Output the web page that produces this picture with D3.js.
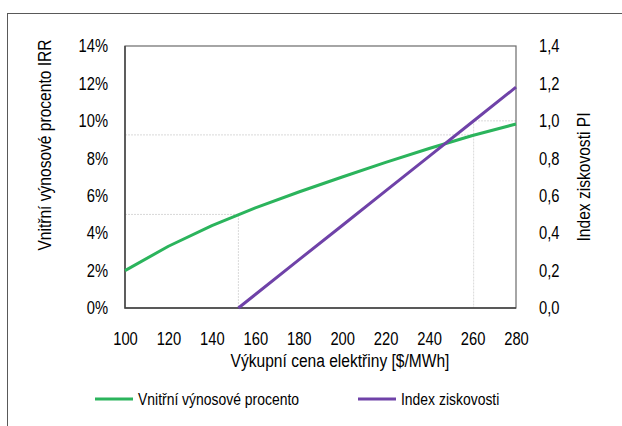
<!DOCTYPE html>
<html><head><meta charset="utf-8">
<script src="https://cdn.jsdelivr.net/npm/d3@7"></script>
<style>
html,body{margin:0;padding:0;background:#fff;}
svg text{font-family:"Liberation Sans Narrow","Arial Narrow","Liberation Sans",Arial,sans-serif;fill:#000;}
</style></head>
<body>
<svg id="c" width="622" height="426"></svg>
<script>
// data
const prices = [100,120,140,160,180,200,220,240,260,280];
const irrValues = [2.0,3.3,4.4,5.35,6.2,7.0,7.78,8.52,9.22,9.83]; // %
const piPrices = [152.2,160,180,200,220,240,260,280];
const piValues = [0,0.072,0.257,0.441,0.626,0.810,0.995,1.18];
const leftTicks = [0,2,4,6,8,10,12,14];
const rightTicks = [0,0.2,0.4,0.6,0.8,1.0,1.2,1.4];
const xTicks = [100,120,140,160,180,200,220,240,260,280];
const guidePrice = [152.2,260.5];
const guideIrr = [5.0,9.25];
const guidePi = [0,1.0];
const seriesNames = ["Vnitřní výnosové procento","Index ziskovosti"];
const colors = ["#2bb45c","#6f42a8"];

const SX = 0.82; // narrow font emulation
const svg = d3.select("#c");
const L=125,R=516,T=46,B=308;
const x = d3.scaleLinear().domain([100,280]).range([L,R]);
const yL = d3.scaleLinear().domain([0,14]).range([B,T]);
const yR = d3.scaleLinear().domain([0,1.4]).range([B,T]);

// outer border
svg.append("rect").attr("x",7.5).attr("y",13.5).attr("width",700).attr("height",500)
  .attr("fill","none").attr("stroke","#595959").attr("stroke-width",1);

// guide lines
const g = svg.append("g").attr("stroke","#d9d9d9").attr("stroke-width",1).attr("stroke-dasharray","2,1").attr("fill","none");
g.append("path").attr("d",`M${L},${yL(guideIrr[0])}H${x(guidePrice[0])}V${B}`);
g.append("path").attr("d",`M${L},${yL(guideIrr[1])}H${x(guidePrice[1])}`);
g.append("path").attr("d",`M${R},${yR(guidePi[1])}H${x(guidePrice[1])}V${B}`);

// plot frame
svg.append("rect").attr("x",L).attr("y",T).attr("width",R-L).attr("height",B-T)
  .attr("fill","none").attr("stroke","#6b6b6b").attr("stroke-width",1.2);
svg.append("path").attr("d",`M${L},${T}V${B}H${R}`).attr("fill","none").attr("stroke","#404040").attr("stroke-width",1.4);

// lines
const lineIrr = d3.line().x((d,i)=>x(prices[i])).y(d=>yL(d));
const linePi = d3.line().x((d,i)=>x(piPrices[i])).y(d=>yR(d));
svg.append("path").datum(irrValues).attr("d",lineIrr).attr("fill","none").attr("stroke",colors[0]).attr("stroke-width",3).attr("stroke-linejoin","round");
svg.append("path").datum(piValues).attr("d",linePi).attr("fill","none").attr("stroke",colors[1]).attr("stroke-width",3).attr("stroke-linejoin","round");

// axes
const fs = 18;
const axL = svg.append("g").attr("transform",`translate(${L},0)`)
  .call(d3.axisLeft(yL).tickValues(leftTicks).tickFormat(d=>d+"%").tickSize(0).tickPadding(17));
const axR = svg.append("g").attr("transform",`translate(${R},0)`)
  .call(d3.axisRight(yR).tickValues(rightTicks).tickFormat(d=>d3.format(".1f")(d).replace(".",",")).tickSize(0).tickPadding(23));
const axB = svg.append("g").attr("transform",`translate(0,${B})`)
  .call(d3.axisBottom(x).tickValues(xTicks).tickFormat(d=>d).tickSize(0).tickPadding(24));
[axL,axR,axB].forEach(a=>{
  a.select(".domain").remove();
  a.selectAll("text").attr("font-size",fs).attr("font-family",null)
    .each(function(){const t=d3.select(this);const xv=+t.attr("x")||0;t.attr("x",xv/SX).attr("transform",`scale(${SX},1)`);});
});

function narrowText(tx,ty,rot,size,anchor,str){
  return svg.append("text").attr("transform",`translate(${tx},${ty}) rotate(${rot}) scale(${SX},1)`)
    .attr("text-anchor",anchor).attr("font-size",size).text(str);
}
// axis titles
narrowText(51,145,-90,19,"middle","Vnitřní výnosové procento IRR");
narrowText(590,177,-90,19,"middle","Index ziskovosti PI");
narrowText(340,367,0,19,"middle","Výkupní cena elektřiny [$/MWh]");

// legend
const legX = [95,358];
seriesNames.forEach((n,i)=>{
  svg.append("line").attr("x1",legX[i]).attr("x2",legX[i]+38).attr("y1",399).attr("y2",399).attr("stroke",colors[i]).attr("stroke-width",3);
  narrowText(legX[i]+43,405,0,17,"start",n);
});
</script>
</body></html>
